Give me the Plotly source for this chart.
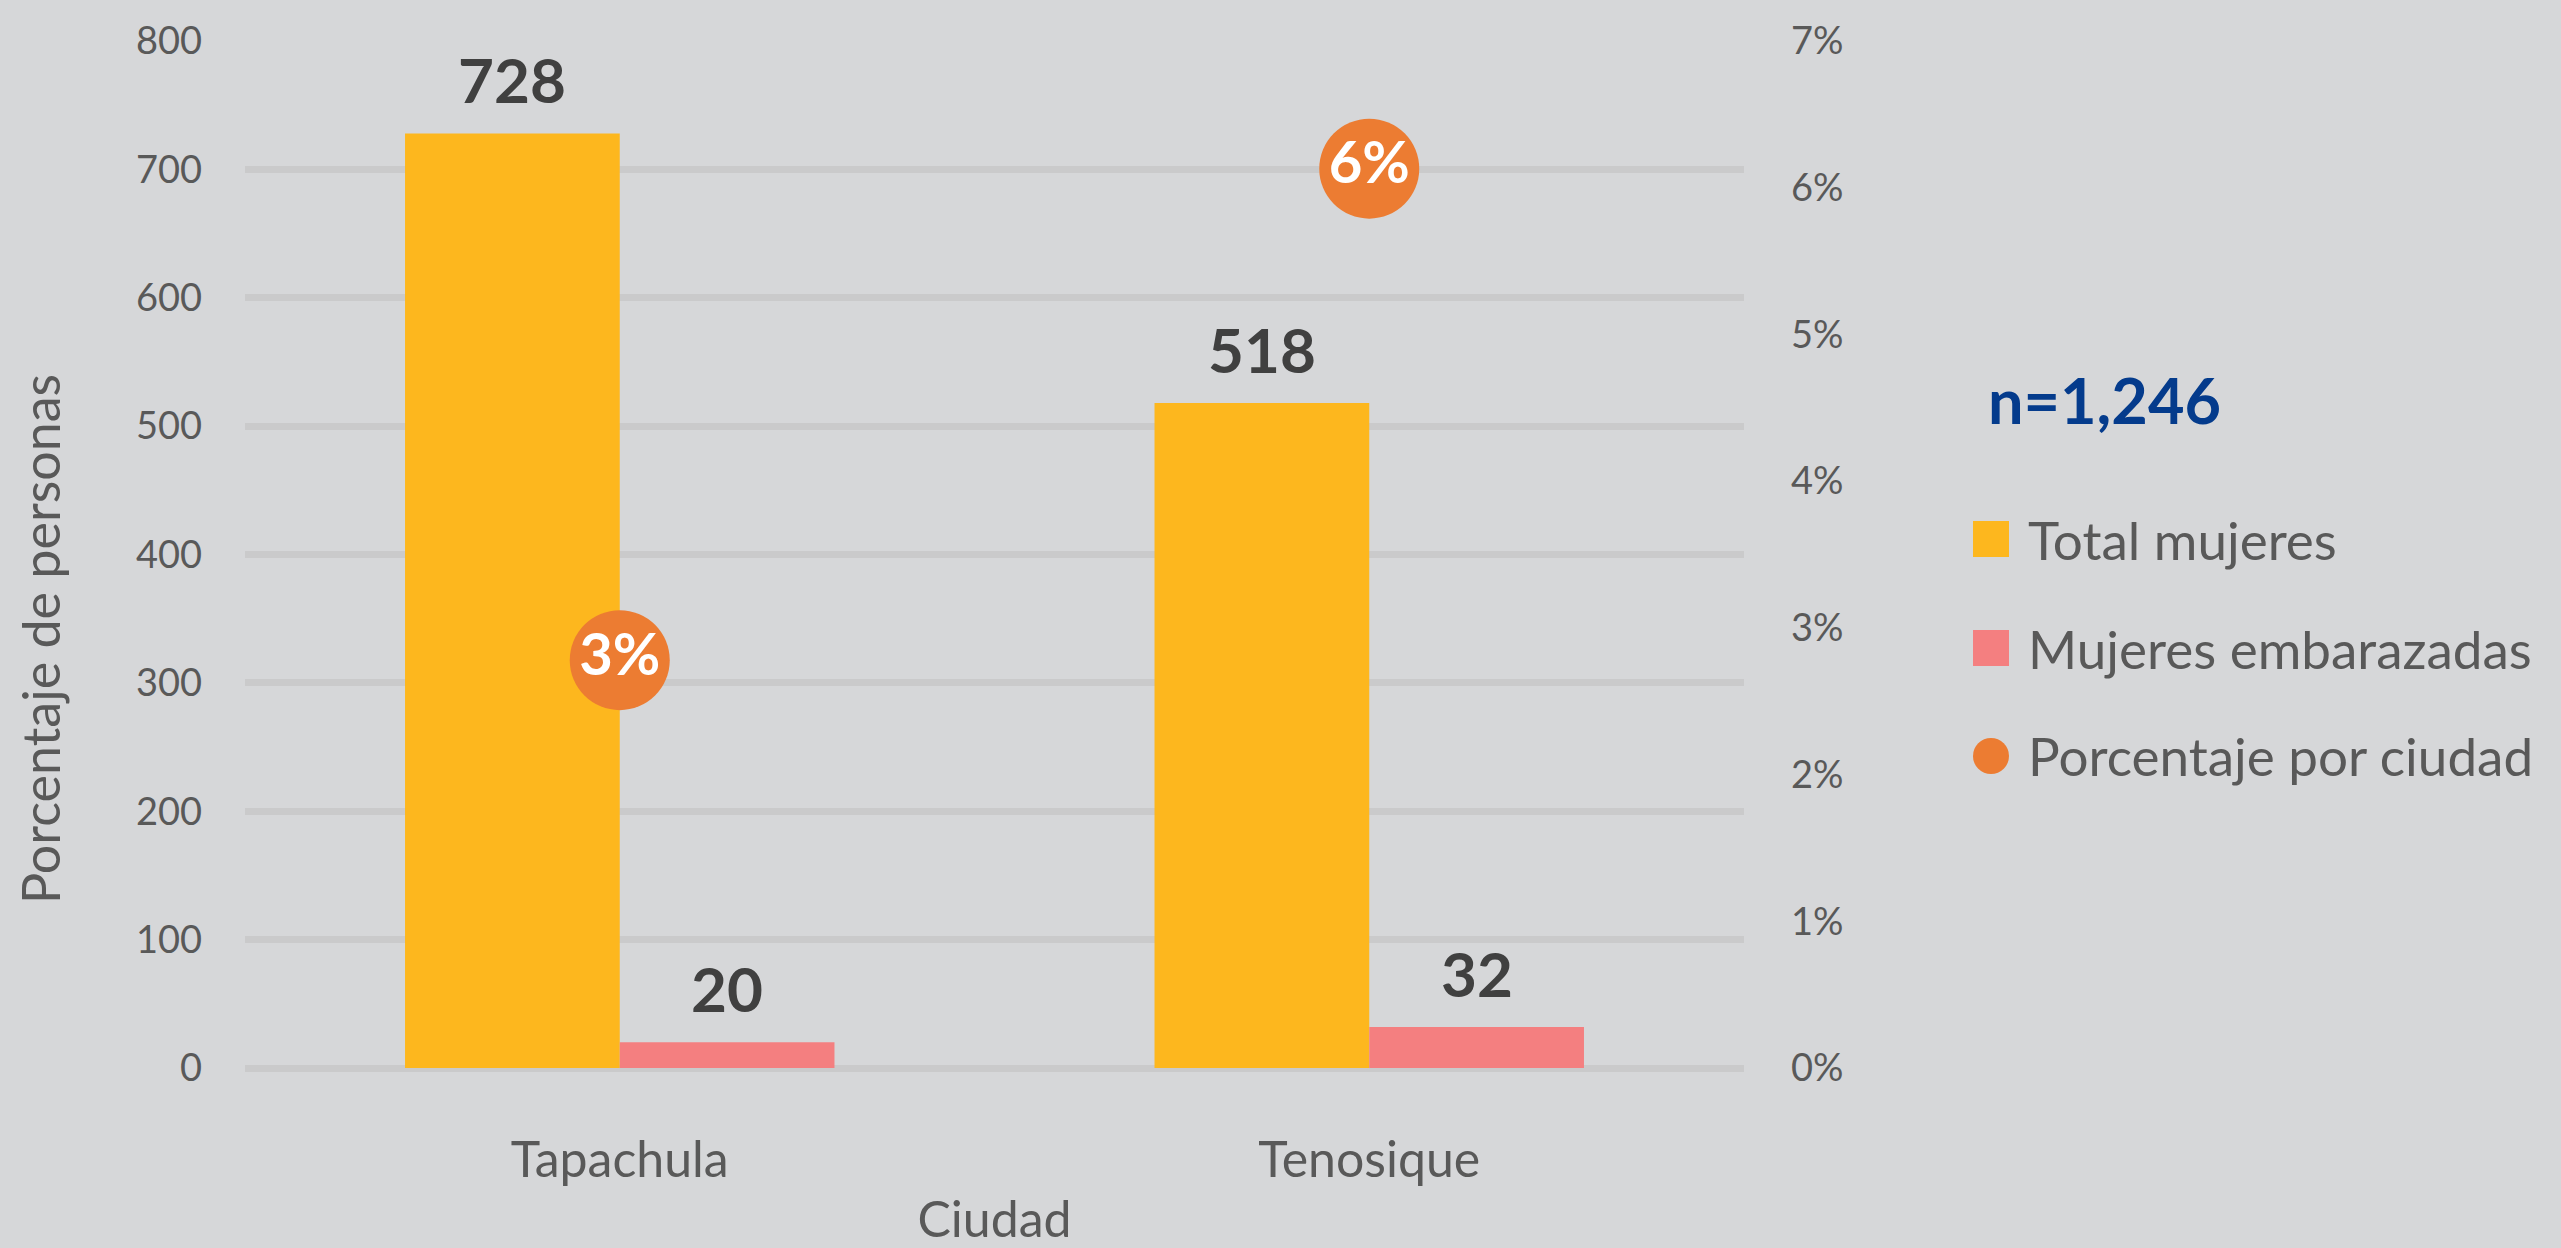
import plotly.graph_objects as go

# ---- data ----
ciudades = ["Tapachula", "Tenosique"]
total_mujeres = [728, 518]
mujeres_embarazadas = [20, 32]
porcentaje = [0.0278, 0.0613]
porcentaje_etiquetas = ["3%", "6%"]
serie_nombres = ["Total mujeres", "Mujeres embarazadas", "Porcentaje por ciudad"]
n_total = "n=1,246"
y_title = "Porcentaje de personas"
x_title = "Ciudad"

# ---- style ----
W, H = 2561, 1248
PL, PR, PT, PB = 245, 1744, 41, 1068
PW, PH = PR - PL, PB - PT
BG = "#D6D7D9"
GRID = "#CACACB"
YELLOW = "#FDB71E"
PINK = "#F47F80"
ORANGE = "#EC7C32"
TICK = "#595959"
LABEL = "#404040"
NAVY = "#043B8C"
FONT = "Lato"
BARGAP = 0.427


def px_x(px):
    return (px - PL) / PW


def px_y(py):
    return (PB - py) / PH


fig = go.Figure()
fig.add_trace(go.Bar(x=ciudades, y=total_mujeres, name=serie_nombres[0],
                     marker=dict(color=YELLOW, line=dict(width=0)), showlegend=False))
fig.add_trace(go.Bar(x=ciudades, y=mujeres_embarazadas, name=serie_nombres[1],
                     marker=dict(color=PINK, line=dict(width=0)), showlegend=False))
fig.add_trace(go.Scatter(x=ciudades, y=porcentaje, name=serie_nombres[2], yaxis="y2",
                         mode="markers+text",
                         marker=dict(color=ORANGE, size=100, line=dict(width=0)),
                         text=porcentaje_etiquetas,
                         textposition="middle center",
                         textfont=dict(family=FONT, size=58, color="white", weight="bold"),
                         showlegend=False, cliponaxis=False))

annotations = []
off = (1 - BARGAP) / 4
for i, (a, b) in enumerate(zip(total_mujeres, mujeres_embarazadas)):
    for dx, v in ((-off, a), (off, b)):
        annotations.append(dict(x=i + dx, y=v, xref="x", yref="y", text=f"<b>{v}</b>",
                                showarrow=False, yanchor="middle", yshift=54,
                                font=dict(family=FONT, size=62, color=LABEL)))

# y axis title (placed as in the reference, slightly below the axis centre)
annotations.append(dict(x=px_x(40), y=px_y(639), xref="paper", yref="paper", text=y_title,
                        textangle=-90, showarrow=False, xanchor="center", yanchor="middle",
                        font=dict(family=FONT, size=52, color=TICK)))

# n annotation
annotations.append(dict(x=px_x(1986), y=px_y(400), xref="paper", yref="paper",
                        text=f"<b>{n_total}</b>", showarrow=False, xanchor="left", yanchor="middle",
                        font=dict(family=FONT, size=63, color=NAVY)))

# manual legend
shapes = []
rows = [539, 648, 756]
colors = [YELLOW, PINK, ORANGE]
for k, (ry, c, name) in enumerate(zip(rows, colors, serie_nombres)):
    shapes.append(dict(type="circle" if k == 2 else "rect", xref="paper", yref="paper",
                       x0=px_x(1973), x1=px_x(2009), y0=px_y(ry + 18), y1=px_y(ry - 18),
                       fillcolor=c, line=dict(width=0)))
    annotations.append(dict(x=px_x(2026), y=px_y(ry), xref="paper", yref="paper", text=name,
                            showarrow=False, xanchor="left", yanchor="middle",
                            font=dict(family=FONT, size=53, color=TICK)))

fig.update_layout(
    width=W, height=H,
    margin=dict(l=PL, r=W - PR, t=PT, b=H - PB, pad=0, autoexpand=False),
    paper_bgcolor=BG, plot_bgcolor=BG,
    barmode="group", bargap=BARGAP, bargroupgap=0,
    font=dict(family=FONT, color=TICK),
    showlegend=False,
    xaxis=dict(showgrid=False, zeroline=False, showline=False, ticks="", automargin=False,
               tickfont=dict(family=FONT, size=50, color=TICK), ticklabelstandoff=58,
               title=dict(text=x_title, font=dict(family=FONT, size=50, color=TICK), standoff=19)),
    yaxis=dict(range=[0, 800], dtick=100, showgrid=True, gridcolor=GRID, gridwidth=7,
               zeroline=True, zerolinecolor=GRID, zerolinewidth=7, showline=False, ticks="",
               automargin=False,
               tickfont=dict(family=FONT, size=38, color=TICK), ticklabelstandoff=42),
    yaxis2=dict(range=[0, 0.07], dtick=0.01, tickformat=".0%", overlaying="y", side="right",
                showgrid=False, zeroline=False, showline=False, ticks="", automargin=False,
                tickfont=dict(family=FONT, size=38, color=TICK), ticklabelstandoff=46),
    annotations=annotations,
    shapes=shapes,
)

fig.write_html("out.html", config={"displayModeBar": False},
               post_script="document.body.style.margin='0';document.body.style.overflow='hidden';")
